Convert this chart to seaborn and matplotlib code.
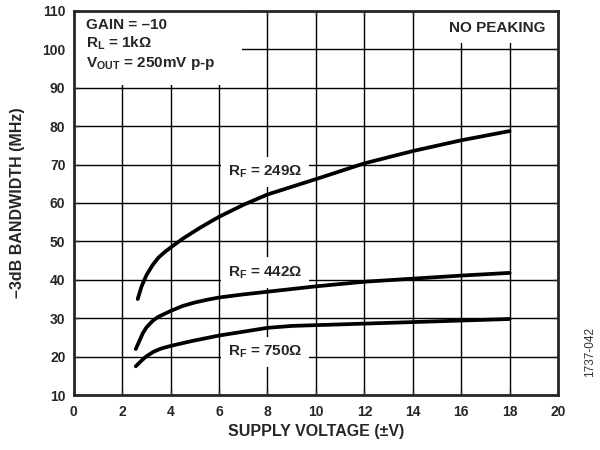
import matplotlib
matplotlib.use("Agg")
import matplotlib.pyplot as plt
from matplotlib.patches import Rectangle
import seaborn as sns
import pandas as pd

# Data
v_249 = [2.64, 2.8, 3.0, 3.25, 3.5, 3.75, 4.0, 4.5, 5.2, 5.75, 6.0, 7.0, 8.0, 10.0, 12.0, 14.0, 16.0, 18.0]
bw_249 = [35.0, 38.3, 41.2, 43.8, 45.8, 47.2, 48.4, 50.7, 53.5, 55.5, 56.4, 59.5, 62.2, 66.2, 70.3, 73.5, 76.3, 78.7]

v_442 = [2.56, 2.85, 3.0, 3.27, 3.5, 4.0, 4.5, 5.0, 5.5, 6.0, 7.0, 8.0, 10.0, 12.0, 14.0, 16.0, 18.0]
bw_442 = [22.0, 26.1, 27.6, 29.4, 30.4, 31.9, 33.2, 34.1, 34.8, 35.4, 36.2, 36.9, 38.3, 39.5, 40.3, 41.1, 41.8]

v_750 = [2.56, 2.8, 3.0, 3.3, 3.6, 4.0, 4.9, 6.0, 7.0, 8.0, 9.0, 10.0, 12.0, 14.0, 16.0, 18.0]
bw_750 = [17.5, 19.0, 20.1, 21.3, 22.1, 22.8, 24.1, 25.5, 26.5, 27.5, 28.0, 28.2, 28.6, 29.0, 29.4, 29.8]

x_ticks = list(range(0, 21, 2))
y_ticks = list(range(10, 111, 10))

sns.set_style("ticks")
plt.rcParams['font.family'] = ['Liberation Sans', 'DejaVu Sans']
plt.rcParams['font.weight'] = 'bold'
plt.rcParams['mathtext.fontset'] = 'custom'
plt.rcParams['mathtext.rm'] = 'Liberation Sans:bold'
plt.rcParams['mathtext.it'] = 'Liberation Sans:bold'
plt.rcParams['mathtext.bf'] = 'Liberation Sans:bold'

fig = plt.figure(figsize=(6, 4.5), dpi=100)
ax = fig.add_axes([0.123, 0.122, 0.807, 0.854])

df = pd.concat([
    pd.DataFrame({"v": v_249, "bw": bw_249, "rf": "249"}),
    pd.DataFrame({"v": v_442, "bw": bw_442, "rf": "442"}),
    pd.DataFrame({"v": v_750, "bw": bw_750, "rf": "750"}),
])
for rf, d in df.groupby("rf"):
    sns.lineplot(x="v", y="bw", data=d, ax=ax, color="black", linewidth=2.7,
                 legend=False, zorder=6)

ax.set_xlim(0, 20)
ax.set_ylim(10, 110)
ax.set_xticks(x_ticks)
ax.set_yticks(y_ticks)
ax.grid(True, color="black", linewidth=1.0)
ax.set_axisbelow(True)
ax.tick_params(direction="in", length=3.5, width=1, labelsize=10, top=True, right=True)
ax.tick_params(axis="x", pad=7)
ax.tick_params(axis="y", pad=6)
for lbl in ax.get_xticklabels() + ax.get_yticklabels():
    lbl.set_fontweight("bold")
for sp in ax.spines.values():
    sp.set_linewidth(2)
    sp.set_zorder(7)

ax.set_xlabel("SUPPLY VOLTAGE (\u00b1V)", fontsize=11.5, fontweight="bold")
ax.set_ylabel("\u20133dB BANDWIDTH (MHz)", fontsize=11.5, fontweight="bold")
ax.xaxis.label.set_va("center")
ax.yaxis.label.set_va("center")
ax.xaxis.set_label_coords(0.5, -0.095)
ax.yaxis.set_label_coords(-0.116, 0.5)

# white block behind conditions text
ax.add_patch(Rectangle((0, 90.6), 6.95, 19.4, facecolor="white", edgecolor="none", zorder=3))
cond_lines = ["GAIN = \u201310", "R$_{L}$ = 1k\u03a9", "V$_{OUT}$ = 250mV p-p"]
cond_y = [105.3, 100.4, 95.4]
for s, yy in zip(cond_lines, cond_y):
    ax.text(0.5, yy, s, fontsize=11, fontweight="bold", va="baseline", ha="left", zorder=5)

ax.text(19.5, 105.6, "NO PEAKING", fontsize=11, fontweight="bold", ha="right", va="center",
        zorder=5, bbox=dict(facecolor="white", edgecolor="none", pad=6))

lab_kw = dict(fontsize=11, fontweight="bold", ha="center", va="center", zorder=5,
              bbox=dict(facecolor="white", edgecolor="none", pad=5))
ax.text(7.9, 68.1, "R$_F$ = 249\u03a9", **lab_kw)
ax.text(7.9, 41.9, "R$_F$ = 442\u03a9", **lab_kw)
ax.text(7.9, 21.2, "R$_F$ = 750\u03a9", **lab_kw)

fig.text(0.983, 0.218, "1737-042", rotation=90, fontsize=8.5, fontweight="normal",
         color="#333333", ha="center", va="center")

fig.savefig("out.png", dpi=100)
